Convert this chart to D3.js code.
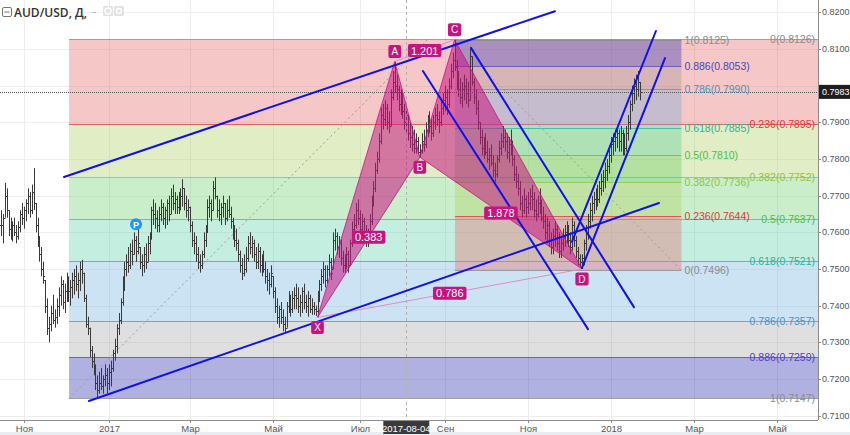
<!DOCTYPE html>
<html><head><meta charset="utf-8">
<script src="https://cdnjs.cloudflare.com/ajax/libs/d3/7.8.5/d3.min.js"></script>
<style>
body{margin:0;background:#fff;}
svg{display:block;font-family:"Liberation Sans",Arial,sans-serif;}
</style></head>
<body><svg id="c" width="850" height="435"></svg>
<script>
// ---------------- DATA ----------------
const symbol = "AUD/USD, Д,";
const startDate = "2016-10-14";           // date of first bar (weekday bars)
const highs = [
.7660,.7650,.7735,.7720,.7660,.7640,.7630,.7640,.7620,.7630,
.7660,.7680,.7670,.7690,.7720,.7710,.7730,.7775,.7680,.7640,
.7590,.7560,.7520,.7470,.7420,.7370,.7400,.7430,.7390,.7420,
.7450,.7480,.7470,.7460,.7490,.7480,.7470,.7490,.7500,.7510,
.7490,.7520,.7525,.7490,.7430,.7370,.7340,.7290,.7270,.7240,
.7210,.7220,.7230,.7210,.7240,.7230,.7240,.7250,.7280,.7310,
.7350,.7380,.7420,.7480,.7520,.7540,.7560,.7570,.7580,.7600,
.7590,.7610,.7560,.7540,.7560,.7570,.7590,.7600,.7670,.7690,
.7680,.7660,.7670,.7690,.7680,.7670,.7690,.7700,.7720,.7730,
.7710,.7700,.7710,.7720,.7745,.7720,.7700,.7690,.7670,.7630,
.7600,.7590,.7560,.7540,.7550,.7600,.7620,.7690,.7700,.7690,
.7740,.7750,.7700,.7690,.7680,.7700,.7680,.7690,.7700,.7670,
.7640,.7620,.7610,.7580,.7550,.7530,.7540,.7560,.7590,.7600,
.7590,.7580,.7560,.7570,.7560,.7540,.7550,.7520,.7500,.7490,
.7510,.7480,.7450,.7420,.7400,.7410,.7390,.7370,.7410,.7440,
.7430,.7440,.7450,.7460,.7450,.7430,.7450,.7460,.7430,.7440,
.7430,.7420,.7410,.7400,.7440,.7470,.7500,.7520,.7510,.7510,
.7540,.7530,.7600,.7610,.7600,.7590,.7580,.7550,.7540,.7560,
.7550,.7580,.7630,.7650,.7680,.7690,.7660,.7650,.7640,.7620,
.7610,.7650,.7700,.7740,.7790,.7820,.7870,.7940,.7950,.7960,
.7950,.7930,.7990,.8040,.8066,.8030,.8000,.7990,.7980,.7950,
.7940,.7920,.7900,.7890,.7880,.7870,.7860,.7840,.7870,.7880,
.7900,.7920,.7930,.7910,.7920,.7940,.7950,.7930,.7960,.7980,
.8000,.7990,.8020,.8060,.8090,.8125,.8070,.8040,.8020,.8010,
.8030,.8020,.8010,.8102,.8080,.8020,.7990,.7960,.7900,.7880,
.7860,.7870,.7850,.7830,.7840,.7810,.7790,.7810,.7850,.7870,
.7890,.7880,.7870,.7860,.7880,.7850,.7810,.7780,.7760,.7740,
.7700,.7720,.7700,.7710,.7720,.7730,.7710,.7690,.7700,.7720,
.7690,.7670,.7650,.7640,.7630,.7600,.7610,.7630,.7620,.7600,
.7590,.7610,.7620,.7630,.7620,.7600,.7640,.7630,.7590,.7560,
.7540,.7540,.7580,.7620,.7650,.7680,.7700,.7710,.7720,.7730,
.7740,.7760,.7770,.7790,.7800,.7830,.7860,.7870,.7880,.7890,
.7880,.7890,.7880,.7870,.7890,.7920,.7960,.8000,.8020,.8030,
.8040,.8010];
const lows = [
.7590,.7570,.7640,.7640,.7590,.7580,.7575,.7590,.7570,.7580,
.7600,.7620,.7610,.7630,.7650,.7640,.7650,.7661,.7600,.7560,
.7520,.7480,.7460,.7380,.7320,.7300,.7330,.7350,.7340,.7350,
.7370,.7400,.7390,.7380,.7410,.7410,.7400,.7420,.7430,.7440,
.7420,.7440,.7460,.7410,.7340,.7320,.7260,.7230,.7210,.7170,
.7147,.7160,.7170,.7160,.7180,.7160,.7170,.7180,.7220,.7250,
.7270,.7320,.7350,.7400,.7440,.7480,.7490,.7500,.7510,.7540,
.7520,.7540,.7500,.7480,.7490,.7500,.7520,.7540,.7580,.7620,
.7610,.7600,.7600,.7630,.7620,.7610,.7620,.7630,.7650,.7660,
.7650,.7650,.7650,.7660,.7670,.7660,.7640,.7630,.7600,.7560,
.7540,.7520,.7500,.7490,.7500,.7530,.7560,.7600,.7640,.7630,
.7660,.7690,.7640,.7630,.7620,.7640,.7620,.7630,.7640,.7610,
.7580,.7560,.7550,.7520,.7490,.7470,.7480,.7490,.7520,.7540,
.7530,.7520,.7500,.7500,.7490,.7480,.7490,.7460,.7440,.7430,
.7450,.7420,.7380,.7350,.7340,.7350,.7330,.7325,.7340,.7380,
.7370,.7380,.7390,.7390,.7380,.7370,.7380,.7390,.7380,.7370,
.7380,.7375,.7375,.7372,.7368,.7410,.7440,.7460,.7450,.7460,
.7480,.7470,.7500,.7550,.7540,.7530,.7510,.7490,.7490,.7500,
.7490,.7510,.7560,.7590,.7610,.7620,.7590,.7580,.7580,.7560,
.7560,.7580,.7620,.7670,.7710,.7760,.7790,.7840,.7880,.7890,
.7880,.7870,.7890,.7960,.7980,.7960,.7930,.7920,.7910,.7880,
.7870,.7850,.7830,.7820,.7815,.7815,.7812,.7805,.7815,.7820,
.7830,.7860,.7870,.7850,.7860,.7880,.7890,.7870,.7890,.7920,
.7930,.7920,.7940,.7990,.8020,.8040,.7990,.7970,.7950,.7940,
.7960,.7950,.7940,.7960,.8000,.7950,.7920,.7880,.7840,.7810,
.7800,.7810,.7790,.7770,.7780,.7750,.7737,.7750,.7790,.7810,
.7830,.7820,.7800,.7790,.7810,.7780,.7740,.7720,.7700,.7660,
.7640,.7650,.7640,.7650,.7660,.7660,.7640,.7630,.7640,.7650,
.7630,.7610,.7580,.7570,.7560,.7540,.7540,.7560,.7550,.7530,
.7530,.7550,.7560,.7570,.7560,.7540,.7550,.7560,.7530,.7510,
.7505,.7500,.7510,.7550,.7580,.7610,.7630,.7650,.7660,.7670,
.7680,.7700,.7710,.7720,.7740,.7760,.7790,.7810,.7820,.7830,
.7820,.7820,.7810,.7810,.7820,.7850,.7880,.7930,.7950,.7960,
.7970,.7960];
const closes = [
.7620,.7640,.7700,.7660,.7610,.7600,.7620,.7600,.7590,.7615,
.7650,.7640,.7660,.7680,.7700,.7660,.7710,.7680,.7620,.7580,
.7540,.7500,.7480,.7400,.7340,.7350,.7380,.7360,.7370,.7400,
.7430,.7460,.7410,.7440,.7460,.7440,.7450,.7470,.7480,.7460,
.7470,.7500,.7490,.7420,.7350,.7340,.7280,.7250,.7230,.7190,
.7170,.7190,.7180,.7200,.7210,.7190,.7220,.7230,.7270,.7290,
.7340,.7360,.7410,.7460,.7500,.7520,.7510,.7550,.7540,.7580,
.7550,.7570,.7520,.7510,.7540,.7520,.7570,.7590,.7660,.7650,
.7640,.7620,.7650,.7670,.7640,.7660,.7680,.7650,.7700,.7680,
.7690,.7670,.7690,.7700,.7720,.7680,.7660,.7670,.7620,.7580,
.7570,.7540,.7520,.7510,.7540,.7580,.7600,.7670,.7680,.7660,
.7720,.7700,.7660,.7650,.7670,.7680,.7640,.7660,.7650,.7630,
.7600,.7580,.7570,.7540,.7510,.7490,.7500,.7530,.7570,.7560,
.7570,.7540,.7520,.7550,.7510,.7520,.7500,.7480,.7470,.7460,
.7490,.7440,.7400,.7370,.7390,.7370,.7350,.7340,.7400,.7420,
.7390,.7420,.7430,.7420,.7400,.7410,.7440,.7410,.7400,.7420,
.7390,.7400,.7390,.7385,.7430,.7460,.7480,.7500,.7470,.7500,
.7520,.7490,.7580,.7590,.7560,.7570,.7530,.7510,.7520,.7540,
.7510,.7570,.7610,.7620,.7660,.7640,.7610,.7630,.7600,.7590,
.7600,.7630,.7680,.7720,.7770,.7800,.7850,.7920,.7910,.7940,
.7900,.7890,.7970,.8010,.8000,.7990,.7950,.7970,.7930,.7900,
.7920,.7870,.7860,.7840,.7830,.7850,.7820,.7825,.7850,.7840,
.7880,.7900,.7890,.7870,.7900,.7920,.7910,.7900,.7940,.7960,
.7970,.7950,.8000,.8040,.8070,.8050,.8010,.7990,.7970,.7990,
.8000,.7980,.7960,.8080,.8010,.7970,.7940,.7900,.7860,.7830,
.7840,.7820,.7800,.7810,.7790,.7770,.7760,.7800,.7830,.7850,
.7860,.7850,.7820,.7840,.7830,.7800,.7760,.7740,.7720,.7680,
.7660,.7690,.7670,.7680,.7700,.7690,.7660,.7650,.7680,.7670,
.7640,.7630,.7600,.7620,.7580,.7560,.7590,.7610,.7570,.7550,
.7570,.7590,.7600,.7590,.7580,.7560,.7620,.7580,.7550,.7530,
.7520,.7530,.7570,.7600,.7630,.7660,.7680,.7690,.7700,.7690,
.7720,.7740,.7750,.7770,.7780,.7810,.7840,.7850,.7860,.7870,
.7850,.7870,.7840,.7830,.7870,.7900,.7950,.7980,.8000,.7990,
.8010,.7983];

const priceTicks = [0.71,0.72,0.73,0.74,0.75,0.76,0.77,0.78,0.79,0.80,0.81,0.82];
const timeTickDates  = ["2016-11-01","2017-01-02","2017-03-01","2017-05-01","2017-07-03","2017-09-01","2017-11-01","2018-01-01","2018-03-01","2018-05-01"];
const timeTickLabels = ["Ноя","2017","Мар","Май","Июл","Сен","Ноя","2018","Мар","Май"];
const crossDate = "2017-08-04";
const lastPrice = 0.7983;

// Fibonacci retracements
const fibLevels = [0, 0.236, 0.382, 0.5, 0.618, 0.786, 0.886, 1];
const fib1Prices = [0.8126, 0.7895, 0.7752, 0.7637, 0.7521, 0.7357, 0.7259, 0.7147];
const fib1Bars = [35.3, 221];          // start bar (extends right), trend end bar
const fib2Prices = [0.7496, 0.7644, 0.7736, 0.7810, 0.7885, 0.7990, 0.8053, 0.8125];
const fib2Bars = [352.5, 235.2];       // level-0 bar, level-1 bar

// XABCD harmonic pattern
const patNames  = ["X","A","B","C","D"];
const patBars   = [164, 204, 217, 235, 301];
const patPrices = [0.7368, 0.8066, 0.7805, 0.8125, 0.7500];
const patRatios = [["X","B","0.383"],["A","C","1.201"],["B","D","1.878"],["X","D","0.786"]];

// Trend lines [bar1, price1, bar2, price2]
const trendLines = [
  [32.7, 0.7751, 287.0, 0.8203],
  [45.6, 0.7140, 340.9, 0.7680],
  [218.6, 0.8040, 304.1, 0.7336],
  [243.5, 0.8103, 327.9, 0.7396],
  [295.8, 0.7574, 339.3, 0.8149],
  [301.0, 0.7503, 344.0, 0.8075]
];
const eventMarker = {bar: 70, price: 0.7622, label: "P"};

// ---------------- STYLE ----------------
const levelColors = ["#8a8a8a","#d83a3a","#93c23e","#4cbf4c","#2bb39a","#4a93c8","#4a43c6","#8a8a8a"];
const bandFills = [null,"rgba(229,115,115,0.4)","rgba(180,210,110,0.4)","rgba(76,200,76,0.3)",
                   "rgba(60,200,150,0.3)","rgba(100,170,220,0.33)","rgba(128,128,128,0.25)","rgba(60,60,180,0.4)"];
const patColor = "#c8137f";

// ---------------- CHART ----------------
const plotW = 818, plotH = 420;
const svg = d3.select("#c");
const x = d3.scaleLinear().domain([-0.46, 423.25]).range([0, plotW]);
const y = d3.scaleLinear().domain([0.708827, 0.823354]).range([plotH, 0]);

const t0 = Date.UTC(...startDate.split("-").map((v,i)=>i===1?v-1:+v));
function barOf(s){
  const p = s.split("-").map(Number); const t = Date.UTC(p[0],p[1]-1,p[2]);
  let n=0; for(let d=t0; d<t; d+=86400000){ const w=new Date(d).getUTCDay(); if(w!==0&&w!==6) n++; }
  return n;
}

svg.append("rect").attr("width",850).attr("height",435).attr("fill","#fff");
svg.append("defs").append("clipPath").attr("id","clip").append("rect").attr("width",plotW).attr("height",plotH);
const g = svg.append("g").attr("clip-path","url(#clip)");

// grid
g.selectAll("line.hg").data(priceTicks).join("line")
  .attr("x1",0).attr("x2",plotW).attr("y1",d=>Math.round(y(d))+0.5).attr("y2",d=>Math.round(y(d))+0.5)
  .attr("stroke","#efefef");
const tickBars = timeTickDates.map(barOf);
g.selectAll("line.vg").data(tickBars).join("line")
  .attr("y1",0).attr("y2",plotH).attr("x1",d=>Math.round(x(d))+0.5).attr("x2",d=>Math.round(x(d))+0.5)
  .attr("stroke","#ececec");

// fib bands
function fibBands(prices, xa, xb){
  const gg = g.append("g");
  for(let k=1;k<prices.length;k++){
    const ya=y(prices[k-1]), yb=y(prices[k]);
    gg.append("rect").attr("x",xa).attr("width",xb-xa)
      .attr("y",Math.min(ya,yb)).attr("height",Math.abs(yb-ya)).attr("fill",bandFills[k]);
  }
  prices.forEach((p,k)=>{
    gg.append("line").attr("x1",xa).attr("x2",xb).attr("y1",Math.round(y(p))+0.5).attr("y2",Math.round(y(p))+0.5)
      .attr("stroke",levelColors[k]).attr("stroke-opacity",0.75);
  });
}
fibBands(fib1Prices, x(fib1Bars[0]), plotW);
fibBands(fib2Prices, x(fib2Bars[1]), x(fib2Bars[0]));

// fib trend lines (dotted)
g.append("line").attr("x1",x(fib1Bars[0])).attr("y1",y(fib1Prices[7])).attr("x2",x(fib1Bars[1])).attr("y2",y(fib1Prices[0]))
  .attr("stroke","#9a9a9a").attr("stroke-dasharray","2,3");
g.append("line").attr("x1",x(fib2Bars[1])).attr("y1",y(fib2Prices[7])).attr("x2",x(fib2Bars[0])).attr("y2",y(fib2Prices[0]))
  .attr("stroke","#9a9a9a").attr("stroke-dasharray","2,3");

// OHLC bars
const bars = closes.map((c,i)=>{
  const o = i===0 ? c : Math.min(highs[i], Math.max(lows[i], closes[i-1]));
  return {i, o, h:highs[i], l:lows[i], c};
});
g.append("g").selectAll("path").data(bars).join("path")
  .attr("d", d=>{
    const xx = Math.round(x(d.i))+0.5;
    const yo = Math.round(y(d.o))+0.5, yc = Math.round(y(d.c))+0.5;
    return `M${xx},${y(d.h)}V${y(d.l)}M${xx-1.5},${yo}H${xx}M${xx},${yc}H${xx+1.5}`;
  })
  .attr("stroke","#3a3a3a").attr("stroke-width",1).attr("fill","none");

// last price line & crosshair
g.append("line").attr("x1",0).attr("x2",plotW).attr("y1",Math.round(y(lastPrice))+0.5).attr("y2",Math.round(y(lastPrice))+0.5)
  .attr("stroke","#555").attr("stroke-dasharray","1,1");
const crossBar = barOf(crossDate);
g.append("line").attr("x1",Math.round(x(crossBar))+0.5).attr("x2",Math.round(x(crossBar))+0.5).attr("y1",0).attr("y2",plotH)
  .attr("stroke","#b0b0b0").attr("stroke-dasharray","3,3");

// pattern
const P = {}; patNames.forEach((n,i)=>P[n]={x:x(patBars[i]), y:y(patPrices[i])});
const tri = [["X","A","B"],["B","C","D"]];
g.selectAll("path.tri").data(tri).join("path")
  .attr("d",d=>"M"+d.map(n=>P[n].x+","+P[n].y).join("L")+"Z")
  .attr("fill","rgba(200,20,130,0.55)").attr("stroke",patColor).attr("stroke-width",1).attr("stroke-opacity",0.8);
g.selectAll("line.pr").data(patRatios.filter(r=>r[0]+r[1]==="AC"||r[0]+r[1]==="XD")).join("line")
  .attr("x1",d=>P[d[0]].x).attr("y1",d=>P[d[0]].y).attr("x2",d=>P[d[1]].x).attr("y2",d=>P[d[1]].y)
  .attr("stroke","#e08cc4").attr("stroke-width",1);

// trend lines
g.selectAll("line.tl").data(trendLines).join("line")
  .attr("x1",d=>x(d[0])).attr("y1",d=>y(d[1])).attr("x2",d=>x(d[2])).attr("y2",d=>y(d[3]))
  .attr("stroke","#1010ee").attr("stroke-width",2).attr("stroke-linecap","round");

// event marker
g.append("circle").attr("cx",x(eventMarker.bar)).attr("cy",y(eventMarker.price)).attr("r",6).attr("fill","#2196f3");
g.append("text").attr("x",x(eventMarker.bar)).attr("y",y(eventMarker.price)+3.5).attr("text-anchor","middle")
  .attr("fill","#fff").attr("font-size",9).attr("font-weight","bold").text(eventMarker.label);

// ratio labels
function tag(cx, cy, txt, fs){
  const tg = g.append("g");
  const t = tg.append("text").attr("x",cx).attr("y",cy).attr("text-anchor","middle").attr("dominant-baseline","central")
    .attr("fill","#fff").attr("font-size",fs).text(txt);
  const w = t.node().getComputedTextLength()+6;
  tg.insert("rect","text").attr("x",cx-w/2).attr("y",cy-6.5).attr("width",w).attr("height",13).attr("rx",2).attr("fill",patColor);
}
patRatios.forEach(r=>{
  const a=P[r[0]], b=P[r[1]];
  tag((a.x+b.x)/2, (a.y+b.y)/2, r[2], 11);
});
patNames.forEach((n,i)=>{
  const up = (n==="A"||n==="C");
  tag(P[n].x, P[n].y + (up?-10:10), n, 10);
});

// fib labels
function fibLabels(prices, levels, xpos, anchor){
  prices.forEach((p,k)=>{
    svg.append("text").attr("x",xpos).attr("y",y(p)).attr("dominant-baseline","central").attr("text-anchor",anchor)
      .attr("font-size",10.5).attr("fill",levelColors[k]).text(levels[k]+"("+p.toFixed(4)+")");
  });
}
fibLabels(fib1Prices, fibLevels, 815, "end");
fibLabels(fib2Prices, fibLevels, x(fib2Bars[0])+3, "start");

// right price axis
svg.append("rect").attr("x",plotW).attr("y",0).attr("width",850-plotW).attr("height",435).attr("fill","#fff");
svg.append("line").attr("x1",plotW+0.5).attr("x2",plotW+0.5).attr("y1",0).attr("y2",plotH).attr("stroke","#8c8c8c");
const ax = svg.append("g");
priceTicks.forEach(p=>{
  ax.append("line").attr("x1",plotW).attr("x2",plotW+3).attr("y1",Math.round(y(p))+0.5).attr("y2",Math.round(y(p))+0.5).attr("stroke","#8c8c8c");
  if (Math.abs(y(p)-y(lastPrice)) < 9) return;   // hidden under the last-price box
  ax.append("text").attr("x",plotW+4).attr("y",y(p)).attr("dominant-baseline","central")
    .attr("font-size",9).attr("fill","#555").text(p.toFixed(4));
});
svg.append("rect").attr("x",plotW+1).attr("y",y(lastPrice)-7).attr("width",850-plotW-1).attr("height",14).attr("fill","#1e1e1e");
svg.append("text").attr("x",plotW+4).attr("y",y(lastPrice)).attr("dominant-baseline","central")
  .attr("font-size",9).attr("fill","#fff").text(lastPrice.toFixed(4));

// bottom time axis
svg.append("rect").attr("x",0).attr("y",432).attr("width",850).attr("height",3).attr("fill","#e9ecf1");
svg.append("line").attr("x1",0).attr("x2",plotW).attr("y1",plotH+0.5).attr("y2",plotH+0.5).attr("stroke","#8c8c8c");
tickBars.forEach((b,i)=>{
  const xx = Math.round(x(b))+0.5;
  svg.append("line").attr("x1",xx).attr("x2",xx).attr("y1",plotH).attr("y2",plotH+3).attr("stroke","#8c8c8c");
  svg.append("text").attr("x",xx).attr("y",plotH+8).attr("text-anchor","middle").attr("dominant-baseline","central")
    .attr("font-size",9.5).attr("fill","#555").text(timeTickLabels[i]);
});
{
  const cx = x(crossBar);
  svg.append("rect").attr("x",cx-23).attr("y",plotH+1).attr("width",46).attr("height",13).attr("fill","#3a3a3a");
  svg.append("text").attr("x",cx).attr("y",plotH+8).attr("text-anchor","middle").attr("dominant-baseline","central")
    .attr("font-size",9.5).attr("fill","#fff").text(crossDate);
}

// title / legend
const tl = svg.append("g");
tl.append("rect").attr("x",2.5).attr("y",7.5).attr("width",9).attr("height",9).attr("rx",1.5).attr("fill","none").attr("stroke","#777");
tl.append("line").attr("x1",4.5).attr("x2",9.5).attr("y1",12).attr("y2",12).attr("stroke","#777");
tl.append("text").attr("x",14).attr("y",17).attr("font-size",12).attr("font-weight",600)
  .attr("font-family","'Open Sans',sans-serif").attr("fill","#333").text(symbol);
tl.append("line").attr("x1",92).attr("x2",96).attr("y1",12.5).attr("y2",12.5).attr("stroke","#bbb");
[103,114].forEach((bx,i)=>{
  tl.append("rect").attr("x",bx).attr("y",6).attr("width",10).attr("height",10).attr("rx",1.5).attr("fill","#e2e2e2");
  tl.append("circle").attr("cx",bx+5).attr("cy",11).attr("r",i?2.5:3).attr("fill","none").attr("stroke","#fff").attr("stroke-width",1.3);
});
</script>
</body></html>
